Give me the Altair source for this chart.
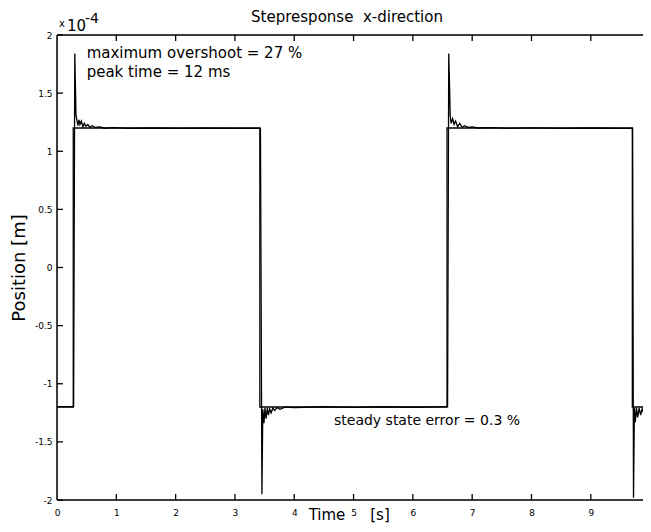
import altair as alt
import pandas as pd

# reference square wave (x 1e-4 m)
ref_t = [0.0, 0.274, 0.274, 3.42, 3.42, 6.576, 6.576, 9.70, 9.70, 10.0]
ref_y = [-1.2, -1.2, 1.2, 1.2, -1.2, -1.2, 1.2, 1.2, -1.2, -1.2]

# measured step response (x 1e-4 m)
resp_t = [
    0.0, 0.28, 0.30, 0.32, 0.353, 0.37, 0.387, 0.41, 0.437, 0.46, 0.487, 0.52,
    0.555, 0.59, 0.64, 0.72, 0.80, 0.95, 1.2, 1.6, 2.0, 2.5, 3.0, 3.43,
    3.455, 3.47, 3.49, 3.505, 3.525, 3.545, 3.565, 3.585, 3.61, 3.64, 3.67,
    3.71, 3.76, 3.85, 4.0, 4.5, 5.0, 5.5, 6.0, 6.585,
    6.605, 6.63, 6.645, 6.67, 6.695, 6.72, 6.755, 6.79, 6.83, 6.87, 6.93,
    7.0, 7.1, 7.3, 7.6, 8.0, 8.5, 9.0, 9.5, 9.705,
    9.72, 9.735, 9.75, 9.77, 9.79, 9.815, 9.84, 9.865, 9.89, 9.92, 9.955, 9.99, 10.0,
]
resp_y = [
    -1.197, -1.197, 1.84, 1.31, 1.22, 1.27, 1.23, 1.26, 1.21, 1.24, 1.215, 1.23,
    1.205, 1.22, 1.205, 1.21, 1.198, 1.203, 1.196, 1.2, 1.196, 1.199, 1.196, 1.197,
    -1.95, -1.22, -1.34, -1.21, -1.30, -1.21, -1.27, -1.215, -1.25, -1.21, -1.23,
    -1.205, -1.22, -1.2, -1.205, -1.198, -1.203, -1.198, -1.202, -1.197,
    1.84, 1.30, 1.24, 1.28, 1.23, 1.26, 1.21, 1.24, 1.205, 1.22, 1.205,
    1.21, 1.2, 1.203, 1.197, 1.201, 1.197, 1.2, 1.197, 1.197,
    -1.98, -1.21, -1.33, -1.21, -1.29, -1.21, -1.27, -1.215, -1.25, -1.21, -1.23, -1.21, -1.22,
]

x_ticks = [0, 1, 2, 3, 4, 5, 6, 7, 8, 9, 10]
y_ticks = [-2, -1.5, -1, -0.5, 0, 0.5, 1, 1.5, 2]
inner_x_ticks = [1, 2, 3, 4, 5, 6, 7, 8, 9]

top_notes_text = ["maximum overshoot = 27 %", "peak time = 12 ms"]
top_notes_t = [0.50, 0.50]
top_notes_y = [1.805, 1.635]
low_notes_text = ["steady state error = 0.3 %"]
low_notes_t = [4.67]
low_notes_y = [-1.355]

# the page is only 651 px wide, so the visible x range ends a little before 10
X_VISIBLE_MAX = 9.88
W, H = 586, 465
FONT = "DejaVu Sans"

df_ref = pd.DataFrame({"t": ref_t, "y": ref_y, "i": range(len(ref_t))})
df_resp = pd.DataFrame({"t": resp_t, "y": resp_y, "i": range(len(resp_t))})
df_xt = pd.DataFrame({"t": inner_x_ticks})
df_yt = pd.DataFrame({"y": y_ticks})
df_top = pd.DataFrame({"t": top_notes_t, "y": top_notes_y, "label": top_notes_text})
df_low = pd.DataFrame({"t": low_notes_t, "y": low_notes_y, "label": low_notes_text})
df_one = pd.DataFrame({"k": [0]})

xs = alt.Scale(domain=[0, X_VISIBLE_MAX], nice=False, zero=False)
ys = alt.Scale(domain=[-2, 2], nice=False, zero=False)

YT = "Position [m]"

x_axis = alt.Axis(
    values=x_ticks, labelExpr="datum.value + ''", ticks=False, domain=False, grid=False,
    labelFontSize=9, labelPadding=8, labelFlush=False, labelOverlap=False,
    labelColor="black", labelFont=FONT, title=None,
)
y_axis = alt.Axis(
    values=y_ticks, labelExpr="datum.value + ''", ticks=False, domain=False, grid=False,
    labelFontSize=9, labelPadding=5, labelFlush=False, labelOverlap=False,
    labelColor="black", labelFont=FONT,
    title=YT, titleFontSize=18, titleFontWeight="normal", titleFont=FONT,
    titleColor="black", titleAngle=-90, titleX=-38, titleY=H / 2, titleBaseline="middle",
    titleAlign="center",
)

X = alt.X("t:Q", scale=xs, axis=x_axis, title=None)
Y = alt.Y("y:Q", scale=ys, axis=y_axis, title=YT)

ref_line = alt.Chart(df_ref).mark_line(color="black", strokeWidth=1.3, clip=True).encode(
    x=X, y=Y, order="i:Q")
resp_line = alt.Chart(df_resp).mark_line(color="black", strokeWidth=1.3, clip=True).encode(
    x=X, y=Y, order="i:Q")

tick_style = dict(color="black", strokeWidth=1.3)
bot_ticks = alt.Chart(df_xt).mark_rule(**tick_style).encode(
    x=X, y=alt.value(H), y2=alt.value(H - 6))
top_ticks = alt.Chart(df_xt).mark_rule(**tick_style).encode(
    x=X, y=alt.value(0), y2=alt.value(6))
left_ticks = alt.Chart(df_yt).mark_rule(**tick_style).encode(
    y=Y, x=alt.value(0), x2=alt.value(6))

frame_style = dict(color="black", strokeWidth=1.5)
frame_left = alt.Chart(df_one).mark_rule(**frame_style).encode(
    x=alt.value(0), y=alt.value(0), y2=alt.value(H))
frame_top = alt.Chart(df_one).mark_rule(**frame_style).encode(
    x=alt.value(0), x2=alt.value(W), y=alt.value(0))
frame_bot = alt.Chart(df_one).mark_rule(**frame_style).encode(
    x=alt.value(0), x2=alt.value(W), y=alt.value(H))

notes_top = alt.Chart(df_top).mark_text(
    align="left", baseline="alphabetic", fontSize=15, font=FONT, color="black"
).encode(x=X, y=Y, text="label:N")
notes_low = alt.Chart(df_low).mark_text(
    align="left", baseline="alphabetic", fontSize=14, font=FONT, color="black"
).encode(x=X, y=Y, text="label:N")

def label(txt, px, py, size, align="left"):
    return alt.Chart(df_one).mark_text(
        align=align, baseline="alphabetic", fontSize=size, font=FONT, color="black"
    ).encode(x=alt.value(px), y=alt.value(py), text=alt.value(txt))

title = label("Stepresponse\u00a0\u00a0x-direction", 290, -13, 15, align="center")
exp_x = label("x", 2, -8, 10)
exp_10 = label("10", 10, -4, 15)
exp_4 = label("-4", 28, -12, 14)
xt_time = label("Time", 270, H + 20, 15, align="center")
xt_unit = label("[s]", 323, H + 20, 15, align="center")

chart = alt.layer(
    ref_line, resp_line, frame_left, frame_top, frame_bot,
    bot_ticks, top_ticks, left_ticks, notes_top, notes_low,
    title, exp_x, exp_10, exp_4, xt_time, xt_unit,
).properties(
    width=W, height=H,
    autosize=alt.AutoSizeParams(type="none"),
    padding={"left": 49, "top": 27, "right": 0, "bottom": 24},
).configure_view(stroke=None).configure(background="white", font=FONT)

chart.save("out.html", embed_options={"renderer": "svg", "actions": False})
